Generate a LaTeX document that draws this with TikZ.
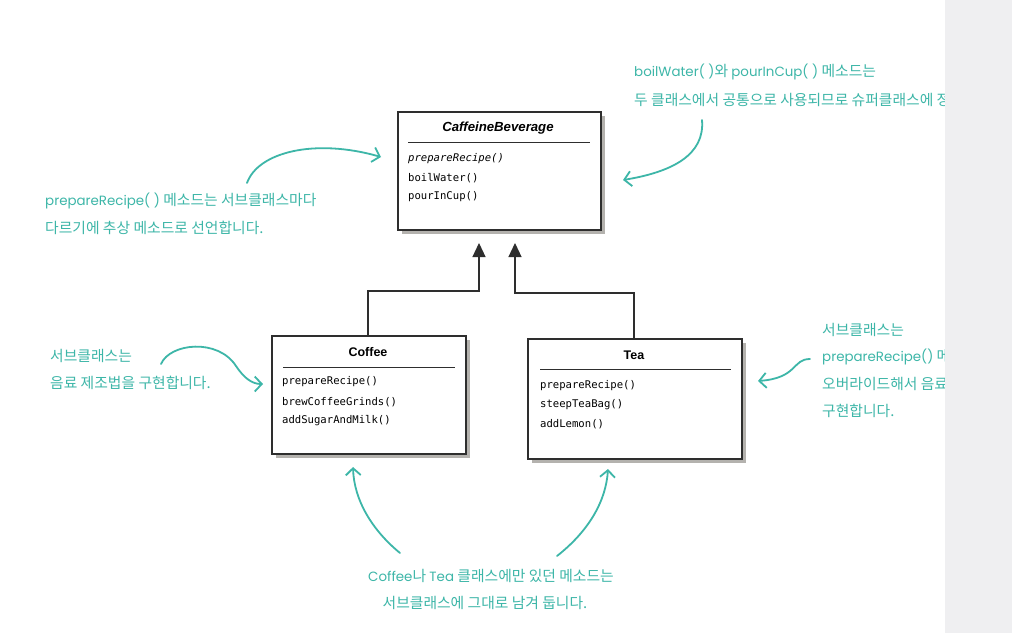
\documentclass[tikz,border=0pt]{standalone}
\usepackage{fontspec}
\setmainfont{Liberation Sans}
\newfontfamily\kr{Noto Sans CJK KR}
\newfontfamily\notelat{Poppins}
\newfontfamily\monof{DejaVu Sans Mono}
\newcommand\latn[1]{{\notelat\fontsize{13.4}{16}\selectfont #1}}
\usetikzlibrary{arrows.meta,shadows}
\definecolor{tealnote}{HTML}{3DB6A8}
\definecolor{boxline}{HTML}{2E2E2E}
\definecolor{shadowgray}{HTML}{B4B2AE}
\definecolor{pageedge}{HTML}{EFEFF1}
\begin{document}
\begin{tikzpicture}[x=1pt,y=-1pt,
  umlbox/.style={draw=boxline, line width=1.3pt, fill=white, inner sep=0pt,
     drop shadow={shadow xshift=4pt, shadow yshift=-4pt, fill=shadowgray, opacity=1}},
  umltitle/.style={font=\fontsize{12.5}{14}\selectfont\bfseries, text=black, inner sep=0pt},
  umlmethod/.style={font=\monof\fontsize{10.6}{12}\selectfont, text=black, anchor=west, inner sep=0pt},
  sepline/.style={draw=boxline, line width=0.8pt},
  conn/.style={draw=boxline, line width=1.2pt},
  tri/.style={-{Triangle[width=13pt,length=14pt]}},
  note/.style={font=\kr\fontsize{14.8}{16}\selectfont, text=tealnote, anchor=west, inner sep=0pt},
  notec/.style={font=\kr\fontsize{14.8}{16}\selectfont, text=tealnote, inner sep=0pt},
  notearrow/.style={draw=tealnote, line width=1.8pt, line cap=round,
     -{Straight Barb[length=7pt,width=15pt,line width=1.8pt]}}
]
\useasboundingbox (0,0) rectangle (1012,633);
\fill[white] (0,0) rectangle (945,633);

% ---- UML boxes
\node[umlbox, minimum width=203pt, minimum height=118pt] (cb) at (499.5,171) {};
\node[umltitle, font=\fontsize{13.2}{15}\selectfont\bfseries\itshape] (cbt) at (498,128) {CaffeineBeverage};
\draw[sepline] (408,142) -- (590,142);
\node[umlmethod, font=\monof\fontsize{10.6}{12}\selectfont\itshape] (cbm1) at (408,159) {prepareRecipe()};
\node[umlmethod] (cbm2) at (408,178) {boilWater()};
\node[umlmethod] (cbm3) at (408,197) {pourInCup()};

\node[umlbox, minimum width=194pt, minimum height=118pt] (coffee) at (369,395) {};
\node[umltitle] (cot) at (368,352) {Coffee};
\draw[sepline] (283,367) -- (455,367);
\node[umlmethod] (com1) at (282,382) {prepareRecipe()};
\node[umlmethod] (com2) at (282,402) {brewCoffeeGrinds()};
\node[umlmethod] (com3) at (282,421) {addSugarAndMilk()};

\node[umlbox, minimum width=214pt, minimum height=120pt] (tea) at (635,399) {};
\node[umltitle] (tet) at (634,355) {Tea};
\draw[sepline] (540,369) -- (731,369);
\node[umlmethod] (tem1) at (540,386) {prepareRecipe()};
\node[umlmethod] (tem2) at (540,405) {steepTeaBag()};
\node[umlmethod] (tem3) at (540,424) {addLemon()};

% ---- inheritance connectors
\coordinate (tip1) at (479,243);
\coordinate (tip2) at (515,243);
\coordinate (k1) at (479,291);
\coordinate (k2) at (515,293);
\draw[conn, tri] ([xshift=-1pt]coffee.north) |- (k1) -- (tip1);
\draw[conn, tri] ([xshift=-1pt]tea.north) |- (k2) -- (tip2);

% ---- annotations
\begin{scope}
\clip (0,0) rectangle (945,633);
\node[note] (n1a) at (634,72) {\latn{boilWater( )}와 \latn{pourInCup( )} 메소드는};
\node[note] (n1b) at (634,100) {두 클래스에서 공통으로 사용되므로 슈퍼클래스에 정의합니다.};
\node[note] (n2a) at (45,201) {\latn{prepareRecipe( )} 메소드는 서브클래스마다};
\node[note] (n2b) at (45,228) {다르기에 추상 메소드로 선언합니다.};
\node[note] (n3a) at (50,356) {서브클래스는};
\node[note] (n3b) at (50,383) {음료 제조법을 구현합니다.};
\node[note] (n4a) at (822,330) {서브클래스는};
\node[note] (n4b) at (822,357) {\latn{prepareRecipe()} 메소드를};
\node[note] (n4c) at (822,384) {오버라이드해서 음료 제조법을};
\node[note] (n4d) at (822,411) {구현합니다.};
\node[notec] (n5a) at (491,576) {\latn{Coffee}나 \latn{Tea} 클래스에만 있던 메소드는};
\node[notec] (n5b) at (485,603) {서브클래스에 그대로 남겨 둡니다.};
\end{scope}

% ---- annotation arrows
\coordinate (a1s) at (702,120);
\coordinate (a1e) at (623,180);
\draw[notearrow] (a1s) .. controls (705,155) and (672,172) .. (a1e);
\coordinate (a2s) at (247,183);
\coordinate (a2e) at (381,157);
\draw[notearrow] (a2s) .. controls (258,152) and (315,138) .. (a2e);
\coordinate (a3s) at (161,364);
\coordinate (a3m) at (236,366);
\coordinate (a3e) at (263,384);
\draw[notearrow] (a3s) .. controls (170,343) and (218,338) .. (a3m) .. controls (244,378) and (252,384) .. (a3e);
\coordinate (a4s) at (810,359);
\coordinate (a4e) at (758,381);
\draw[notearrow] (a4s) .. controls (792,359) and (798,378) .. (a4e);
\coordinate (a5s) at (400,553);
\coordinate (a5e) at (353,467);
\draw[notearrow] (a5s) .. controls (372,530) and (354,500) .. (a5e);
\coordinate (a6s) at (557,556);
\coordinate (a6e) at (608,469);
\draw[notearrow] (a6s) .. controls (590,530) and (606,500) .. (a6e);

% ---- page edge
\fill[pageedge] (945,0) rectangle (1012,633);
\end{tikzpicture}
\end{document}
